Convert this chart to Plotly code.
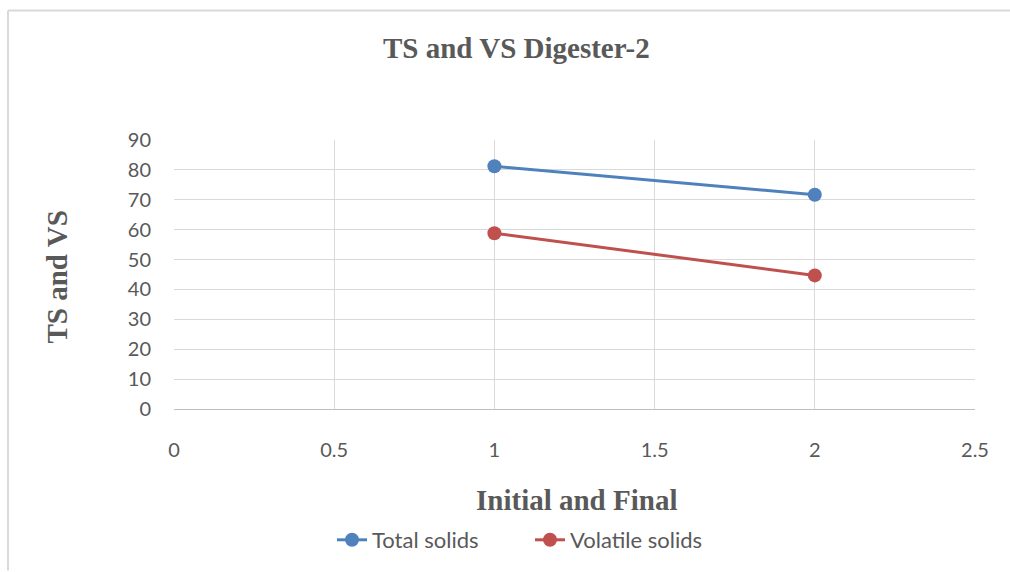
import plotly.graph_objects as go

x_vals = [1, 2]
total_solids = [81.2, 71.7]
volatile_solids = [58.8, 44.7]
x_ticks = [0, 0.5, 1, 1.5, 2, 2.5]
x_tick_labels = ["0", "0.5", "1", "1.5", "2", "2.5"]
y_ticks = [0, 10, 20, 30, 40, 50, 60, 70, 80, 90]

fig = go.Figure()
fig.add_trace(go.Scatter(x=x_vals, y=total_solids, mode="lines+markers", name="Total solids",
                         line=dict(color="#4F81BD", width=3), marker=dict(size=14, color="#4F81BD")))
fig.add_trace(go.Scatter(x=x_vals, y=volatile_solids, mode="lines+markers", name="Volatile solids",
                         line=dict(color="#C0504D", width=3), marker=dict(size=14, color="#C0504D")))

W, H = 1010, 572
ml, mr, mt, mb = 174, 35, 140, 162
pw, ph = W - ml - mr, H - mt - mb

def px(xp):
    return (xp - ml) / pw

def py(yp):
    return (H - mb - yp) / ph

serif = dict(family="Liberation Serif", size=29, color="#595959")

fig.update_layout(
    width=W, height=H,
    margin=dict(l=ml, r=mr, t=mt, b=mb),
    paper_bgcolor="white", plot_bgcolor="white",
    xaxis=dict(range=[0, 2.5], tickvals=x_ticks, ticktext=x_tick_labels, showgrid=True, gridcolor="#d9d9d9",
               gridwidth=1, zeroline=False, showline=True, linecolor="#bfbfbf", linewidth=1,
               ticks="", ticklabelstandoff=23,
               tickfont=dict(family="Lato", size=20, color="#595959")),
    yaxis=dict(range=[0, 90], tickvals=y_ticks, showgrid=True, gridcolor="#d9d9d9", gridwidth=1,
               zeroline=False, showline=False, ticks="", ticklabelstandoff=22,
               tickfont=dict(family="Lato", size=20, color="#595959")),
    legend=dict(orientation="h", x=px(332), xanchor="left", y=py(540), yanchor="middle",
                entrywidth=153, entrywidthmode="pixels",
                font=dict(family="Lato", size=22, color="#595959")),
    showlegend=True,
)
fig.add_annotation(text="<b>TS and VS Digester-2</b>", xref="paper", yref="paper", x=px(516), y=py(48),
                   xanchor="center", yanchor="middle", showarrow=False, font=serif)
fig.add_annotation(text="<b>Initial and Final</b>", xref="paper", yref="paper", x=px(576), y=py(501),
                   xanchor="center", yanchor="middle", showarrow=False, font=serif)
fig.add_annotation(text="<b>TS and VS</b>", xref="paper", yref="paper", x=px(57), y=py(278),
                   xanchor="center", yanchor="middle", showarrow=False, textangle=-90, font=serif)
fig.add_shape(type="line", xref="paper", yref="paper", x0=px(8), x1=px(1010), y0=py(10), y1=py(10),
              line=dict(color="#d9d9d9", width=2))
fig.add_shape(type="line", xref="paper", yref="paper", x0=px(8), x1=px(8), y0=py(10), y1=py(572),
              line=dict(color="#d9d9d9", width=2))

fig.write_html("out.html", config={"displayModeBar": False},
               post_script="document.body.style.margin='0';")
